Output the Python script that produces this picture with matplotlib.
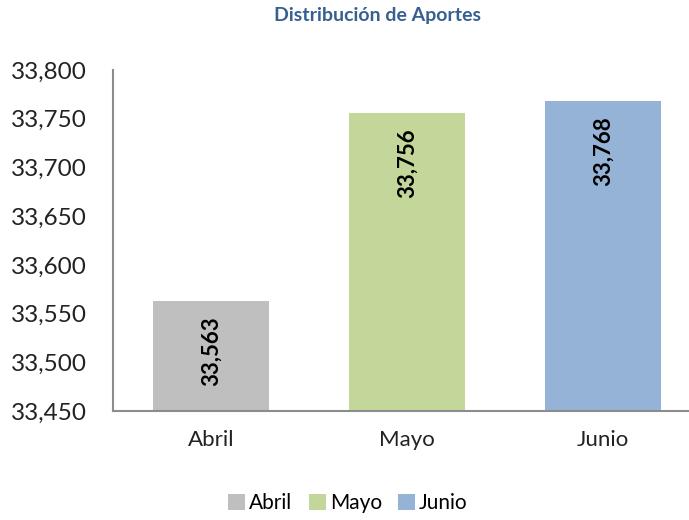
import matplotlib
matplotlib.use('Agg')
import matplotlib.pyplot as plt
from matplotlib.ticker import FuncFormatter

months = ['Abril', 'Mayo', 'Junio']
aportes = [33563, 33756, 33768]
bar_colors = ['#BFBFBF', '#C4D79B', '#95B3D7']
y_ticks = [33450, 33500, 33550, 33600, 33650, 33700, 33750, 33800]

plt.rcParams['font.family'] = ['Lato', 'DejaVu Sans']

fig = plt.figure(figsize=(6.89, 5.2), dpi=100)
# axes run slightly past the right edge, as in the original export
ax = fig.add_axes([113 / 689, 1 - 411 / 520, 588 / 689, 341 / 520])

x = range(len(months))
bars = ax.bar(x, aportes, width=0.59, color=bar_colors, label=months)

for rect, val in zip(bars, aportes):
    ax.annotate(f'{val:,}',
                xy=(rect.get_x() + rect.get_width() / 2, rect.get_height()),
                xytext=(0, -11), textcoords='offset points',
                rotation=90, ha='center', va='top',
                fontsize=16, fontweight='bold', color='black')

ax.set_xlim(-0.5, 2.5)
ax.set_ylim(33450, 33800)
ax.set_yticks(y_ticks)
ax.yaxis.set_major_formatter(FuncFormatter(lambda v, p: f'{int(v):,}'))
ax.set_xticks(list(x))
ax.set_xticklabels(months)
ax.tick_params(axis='both', length=0, colors='#222222')
ax.tick_params(axis='y', labelsize=17.5, pad=19)
ax.tick_params(axis='x', labelsize=16, pad=14)

for side in ['top', 'right']:
    ax.spines[side].set_visible(False)
for side in ['left', 'bottom']:
    ax.spines[side].set_color('#8C8C8C')
    ax.spines[side].set_linewidth(1.5)

fig.text(377 / 689, 1 - 16 / 520, 'Distribución de Aportes', ha='center',
         va='center', fontsize=14, fontweight='bold', color='#376092')

fig.legend(handles=list(bars), labels=months, loc='center',
           bbox_to_anchor=(348 / 689, 1 - 503 / 520), ncol=3, frameon=False,
           fontsize=15, handlelength=0.8, handleheight=0.8,
           handletextpad=0.2, columnspacing=0.8)

fig.savefig('out.png', dpi=100)
